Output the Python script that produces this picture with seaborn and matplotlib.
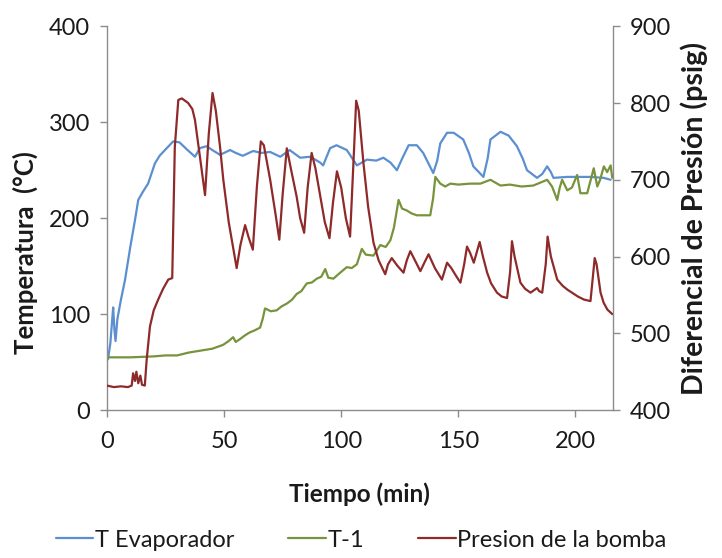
import numpy as np
import pandas as pd
import matplotlib
matplotlib.use("Agg")
import matplotlib.pyplot as plt
import seaborn as sns

# ---------------- data ----------------
evap_t = [0.5, 1.5, 2.3, 2.7, 3.2, 3.7, 4.5, 6, 7.7, 10, 12, 13.4, 15.5, 17.6, 20.5, 22.5,
          24.8, 28.3, 31, 34, 37.6, 39.7, 42.6, 45, 48.3, 52.6, 55, 58, 62.4, 66, 69.7, 74,
          78, 82.5, 86.8, 91, 92.3, 95.3, 98, 102.4, 106.7, 111, 115, 118, 121, 123.8, 126,
          128.8, 132.3, 135, 139.3, 141, 142.3, 145.2, 148, 152.1, 154.5, 156.4, 160.7, 162.5,
          163.7, 168, 171.5, 175, 177.5, 179.3, 183.6, 185.8, 187.9, 189.5, 190.6, 196.5,
          206.4, 212, 215]
evap_T = [53, 70, 95, 107, 85, 72, 95, 115, 135, 170, 198, 219, 228, 236, 257, 265,
          271, 280, 279, 272, 264, 273, 275, 271, 266, 271, 268, 265, 270, 268, 269, 264,
          271, 263, 264, 258, 255, 273, 276, 271, 255, 261, 260, 263, 258, 250, 262,
          276, 276, 268, 247, 260, 278, 289, 289, 282, 268, 254, 243, 262,
          282, 290, 286, 275, 262, 250, 242, 246, 254, 248, 242, 243,
          243, 242, 240]

t1_t = [0, 10, 20, 25, 30, 35, 40, 45, 49.6, 52, 53.9, 55, 56.8, 59, 61, 63, 65.4, 66.5,
        67.5, 70, 72.5, 74.5, 76.8, 79, 81, 83, 85.3, 87.5, 89.6, 91.5, 93.2, 94.5, 96.7,
        99, 102.4, 104.5, 106.7, 108.8, 110.5, 113.8, 116.7, 119, 121, 122.5, 124.5, 126,
        128, 130, 132.3, 135, 138, 139.2, 140.2, 142.3, 144.4, 146.6, 150, 155, 159.4,
        163.7, 168, 172, 177, 182, 187.9, 190, 192.2, 193.3, 194.3, 196.5, 198.5, 200.7,
        202.1, 205, 207.8, 209.3, 210.5, 212.1, 213.5, 215, 215.7]
t1_T = [55, 55, 56, 57, 57, 60, 62, 64, 68, 72, 76, 71, 74, 78, 81, 83, 86, 95,
        106, 103, 104, 108, 111, 115, 121, 124, 132, 133, 137, 139, 147, 138, 137,
        142, 149, 148, 152, 168, 162, 161, 172, 170, 177, 190, 219, 210,
        208, 205, 203, 203, 203, 220, 243, 236, 233, 236, 235, 236, 236,
        240, 234, 235, 233, 234, 240, 233, 219, 232, 240, 229, 232, 245,
        226, 226, 252, 233, 240, 254, 248, 255, 242]

pres_t = [0, 3, 6, 9, 10.6, 11.2, 12, 12.6, 13.4, 14.3, 15, 16.2, 17, 18.4, 20, 21.9, 24,
          26.2, 27.9, 28.4, 29, 30.5, 32, 34.7, 36.5, 37.6, 39.5, 41.9, 43.5, 45.1, 46.5,
          48.3, 49.7, 52, 55.4, 57, 59, 60.5, 62.3, 64, 65.7, 67, 69.7, 72, 73.6, 75, 76.8,
          78.5, 81, 82.5, 84.2, 85.7, 87.4, 89, 91, 93, 95, 96.5, 98.2, 100, 102, 103.8,
          105.5, 106.4, 107.5, 109.5, 111.5, 113.8, 116, 118.8, 120, 121.6, 124, 126.6,
          128, 129.5, 131.5, 133.8, 135.5, 137.3, 140, 143, 145.2, 147, 149, 150.9, 152.5,
          153.7, 155, 156.6, 159.1, 160.5, 162.3, 164, 166.5, 168.5, 170.8, 172.1, 172.9,
          174, 176.5, 178.5, 180.8, 183.6, 184.5, 185.8, 187.3, 188.1, 189.5, 192.2, 194.5,
          196.5, 199, 201, 203.6, 206.4, 207.3, 208.2, 209, 210.7, 212, 213.6, 215.7]
pres_P = [432, 430, 431, 430, 432, 448, 438, 450, 435, 445, 433, 432, 466, 509, 530, 544, 558,
          570, 572, 650, 743, 804, 806, 800, 792, 778, 735, 680, 760, 813, 790,
          743, 700, 645, 585, 615, 641, 625, 609, 690, 750, 745, 700, 655, 622, 680, 741,
          715, 678, 650, 631, 690, 735, 715, 680, 645, 624, 670, 711, 690, 650, 626,
          740, 803, 790, 722, 665, 618, 595, 577, 590, 598, 588, 579,
          595, 607, 595, 581, 592, 603, 585, 570, 592, 585, 575, 566, 590,
          613, 605, 592, 619, 600, 579, 565, 553, 548, 546, 580, 620,
          600, 566, 558, 553, 559, 555, 553, 590, 626, 600, 570, 562,
          557, 552, 548, 544, 542, 570, 598, 590, 553, 540, 531, 525]

x_ticks = [0, 50, 100, 150, 200]
left_ticks = [0, 100, 200, 300, 400]
right_ticks = [400, 500, 600, 700, 800, 900]

labels = ["T Evaporador", "T-1", "Presion de la bomba"]
colors = ["#5B8FD0", "#77933C", "#8E2A2A"]

# ---------------- plotting ----------------
sns.set_theme(style="white")
plt.rcParams['font.family'] = ['Lato', 'DejaVu Sans']

fig = plt.figure(figsize=(7.22, 5.58), dpi=100)
ax = fig.add_axes([0.148, 0.265, 0.701, 0.688])
ax2 = ax.twinx()

df_evap = pd.DataFrame({"t": evap_t, "v": evap_T})
df_t1 = pd.DataFrame({"t": t1_t, "v": t1_T})
df_p = pd.DataFrame({"t": pres_t, "v": pres_P})

sns.lineplot(data=df_evap, x="t", y="v", ax=ax, color=colors[0], lw=1.6, label=labels[0], legend=False)
sns.lineplot(data=df_t1, x="t", y="v", ax=ax, color=colors[1], lw=1.6, label=labels[1], legend=False)
sns.lineplot(data=df_p, x="t", y="v", ax=ax2, color=colors[2], lw=1.6, label=labels[2], legend=False)

ax.set_xlim(0, 216)
ax.set_ylim(0, 400)
ax2.set_ylim(400, 900)
ax.set_xticks(x_ticks)
ax.set_yticks(left_ticks)
ax2.set_yticks(right_ticks)

spine_col = "#8C8C8C"
for a in (ax, ax2):
    for s in a.spines.values():
        s.set_color(spine_col)
        s.set_linewidth(1.0)
    a.spines["top"].set_visible(False)
ax.spines["right"].set_visible(False)
ax2.spines["left"].set_visible(False)
ax2.spines["bottom"].set_visible(False)

ax.tick_params(axis="both", which="both", direction="out", length=5, width=1.0,
               color=spine_col, labelsize=17, labelcolor="#1a1a1a", pad=7)
ax.tick_params(axis="x", pad=10)
ax2.tick_params(axis="y", direction="out", length=5, width=1.0, color=spine_col,
                labelsize=17, labelcolor="#1a1a1a", pad=7)
ax.tick_params(left=True, bottom=True)
ax2.tick_params(right=True)

ax.set_xlabel("Tiempo (min)", fontsize=17.5, fontweight="bold", color="#1a1a1a", labelpad=22)
ax.set_ylabel("Temperatura  (°C)", fontsize=18.5, fontweight="bold", color="#1a1a1a")
ax.yaxis.set_label_coords(-0.162, 0.41)
ax.yaxis.label.set_va("center")
ax2.set_ylabel("Diferencial de Presión (psig)", fontsize=20.5, fontweight="bold", color="#1a1a1a",
               labelpad=7)

h1, l1 = ax.get_legend_handles_labels()
h2, l2 = ax2.get_legend_handles_labels()
fig.legend(h1 + h2, l1 + l2, loc="lower center", bbox_to_anchor=(0.5, -0.025), ncol=3,
           frameon=False, fontsize=17, handlelength=1.6, handletextpad=0.05,
           columnspacing=2.3, labelcolor="#1a1a1a")

fig.savefig("out.png", dpi=100)
